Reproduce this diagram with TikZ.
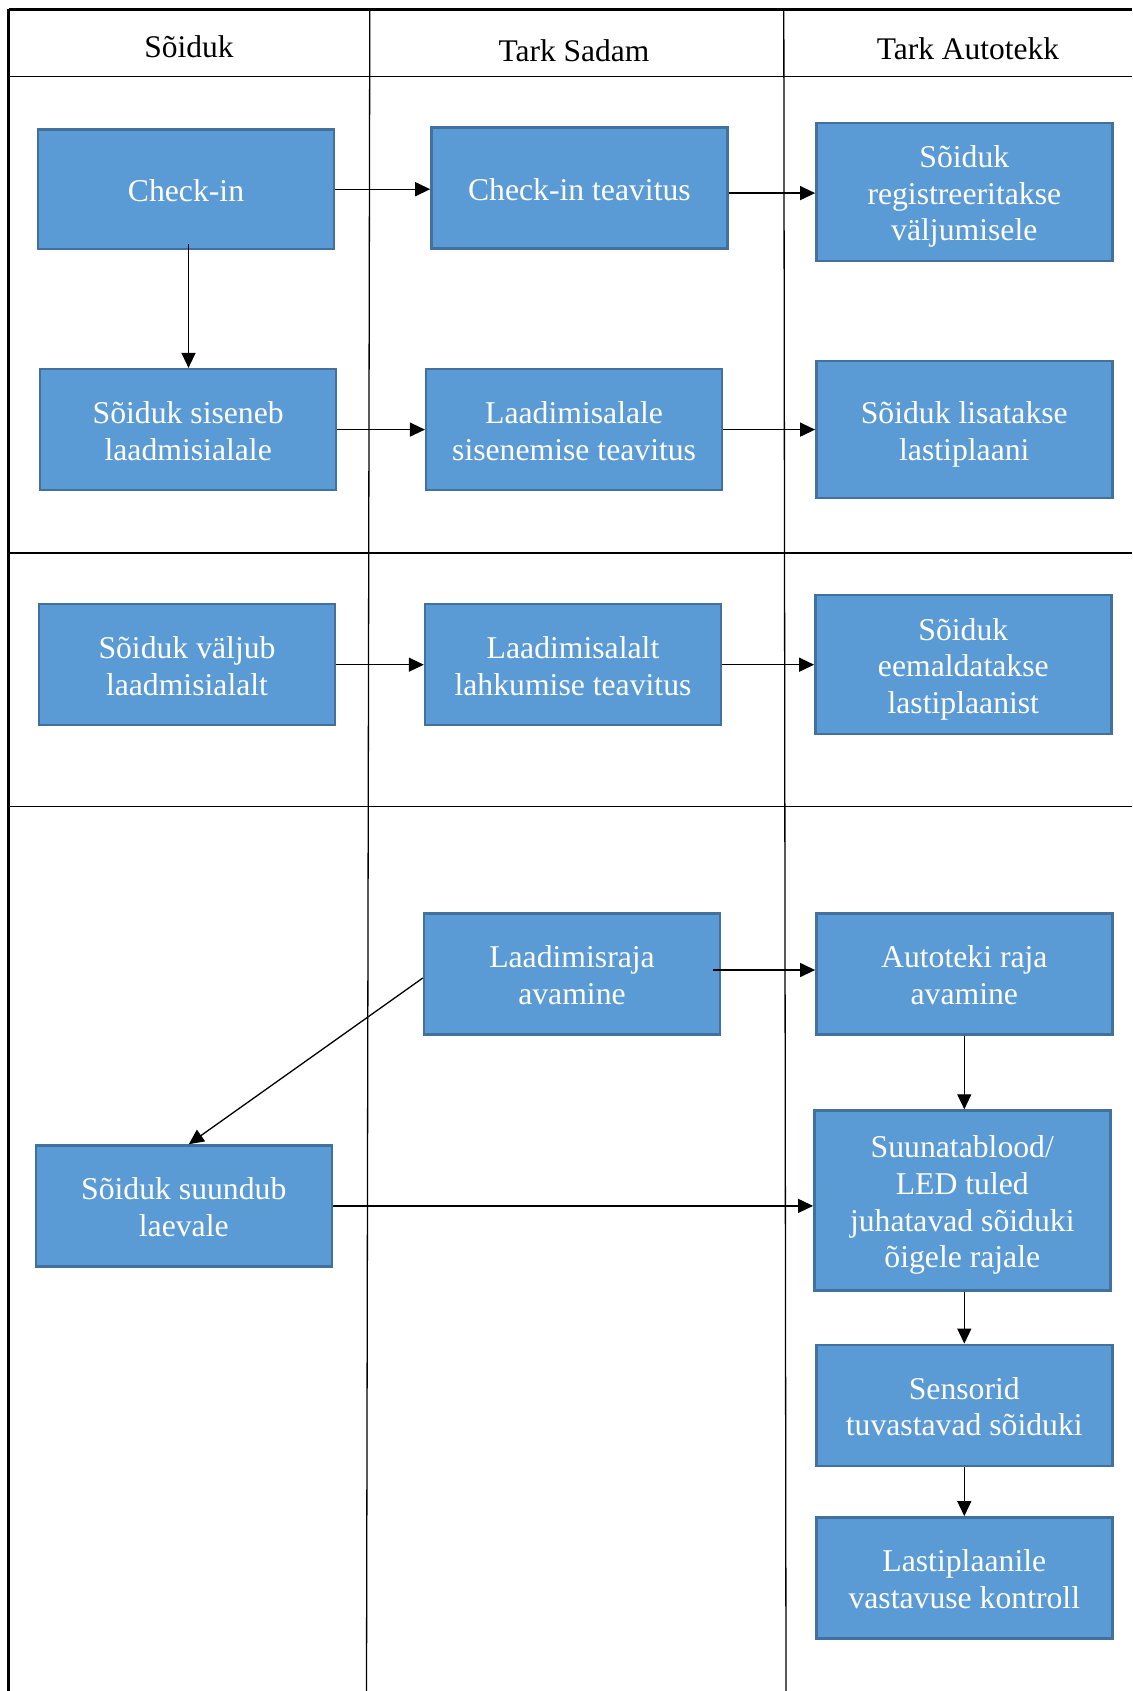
\documentclass[tikz,border=0pt]{standalone}
\usepackage{fontspec}
\setmainfont{Liberation Serif}
\usetikzlibrary{arrows.meta}
\definecolor{boxfill}{HTML}{5B9BD5}
\definecolor{boxline}{HTML}{41719C}
\newcommand\boxtext[1]{\raisebox{-4.8pt}[\height][\depth]{\begin{tabular}{@{}c@{}}#1\end{tabular}}}
\begin{document}
\begin{tikzpicture}[x=1pt,y=-1pt,
  proc/.style={draw=boxline,line width=2.4pt,fill=boxfill,text=white,
    minimum width=296pt,minimum height=121pt,inner sep=0pt,
    font=\fontsize{31.7}{36.7}\selectfont},
  hdr/.style={font=\fontsize{31.5}{36}\selectfont,inner sep=0pt},
  flow/.style={line width=1.3pt,-{Triangle[length=15pt,width=14pt]}},
  grid/.style={line width=1.3pt,black}]
\useasboundingbox (0,0) rectangle (1132,1691);
\fill[white] (0,0) rectangle (1132,1691);
% frame
\draw[line width=3pt] (8.6,10) -- (1132,10);
\draw[line width=2.4pt] (8.6,8.6) -- (8.6,1691);
\draw[grid] (8.6,76.5) -- (1132,76.5);
\draw[grid] (8.6,553) -- (1132,553);
\draw[grid] (8.6,806.4) -- (1132,806.4);
\draw[grid] (369.8,10) -- (366.5,1691);
\draw[grid] (783.8,10) -- (786,1691);
% headers
\node[hdr] (h1) at (189,47) {Sõiduk};
\node[hdr] (h2) at (574,51) {Tark Sadam};
\node[hdr] (h3) at (968,49) {Tark Autotekk};
% boxes
\node[proc,minimum height=119.6pt] (chk) at (186,189.2) {\boxtext{Check-in}};
\node[proc] (chkt) at (579.4,188.1) {\boxtext{Check-in teavitus}};
\node[proc,minimum height=138pt] (reg) at (964.3,191.9) {\boxtext{Sõiduk\\registreeritakse\\väljumisele}};
\node[proc] (sis) at (188.2,429.6) {\boxtext{Sõiduk siseneb\\laadmisialale}};
\node[proc] (sist) at (574.1,429.6) {\boxtext{Laadimisalale\\sisenemise teavitus}};
\node[proc,minimum height=137pt] (lis) at (964.3,429.7) {\boxtext{Sõiduk lisatakse\\lastiplaani}};
\node[proc] (valj) at (187,664.7) {\boxtext{Sõiduk väljub\\laadmisialalt}};
\node[proc] (lahk) at (573,664.7) {\boxtext{Laadimisalalt\\lahkumise teavitus}};
\node[proc,minimum height=139pt] (eem) at (963.3,664.6) {\boxtext{Sõiduk\\eemaldatakse\\lastiplaanist}};
\node[proc] (rajaS) at (572,974) {\boxtext{Laadimisraja\\avamine}};
\node[proc] (rajaA) at (964.3,974) {\boxtext{Autoteki raja\\avamine}};
\node[proc,minimum height=180pt] (suun) at (962.3,1200.5) {\boxtext{Suunatablood/\\LED tuled\\juhatavad sõiduki\\õigele rajale}};
\node[proc] (suund) at (183.8,1205.9) {\boxtext{Sõiduk suundub\\laevale}};
\node[proc] (sens) at (964.3,1405.3) {\boxtext{Sensorid\\tuvastavad sõiduki}};
\node[proc] (last) at (964.3,1577.8) {\boxtext{Lastiplaanile\\vastavuse kontroll}};
% connectors
\draw[flow] (chk.east) -- (chk.east -| chkt.west);
\draw[flow] ([yshift=-5pt]chkt.east) -- ([yshift=-5pt]chkt.east -| reg.west);
\draw[flow] ([xshift=2.5pt,yshift=6pt]chk.south) -- ([xshift=2.5pt]chk.south |- sis.north);
\draw[flow] (sis.east) -- (sis.east -| sist.west);
\draw[flow] (sist.east) -- (sist.east -| lis.west);
\draw[flow] (valj.east) -- (valj.east -| lahk.west);
\draw[flow] (lahk.east) -- (lahk.east -| eem.west);
\draw[flow] ([xshift=-8pt,yshift=4pt]rajaS.east) -- ([yshift=4pt]rajaS.east -| rajaA.west);
\draw[flow] ([yshift=-4pt]rajaS.west) -- ([xshift=5pt]suund.north);
\draw[flow] (suund.east) -- (suund.east -| suun.west);
\draw[flow] (rajaA.south) -- (rajaA.south |- suun.north);
\draw[flow] ([xshift=2pt]suun.south) -- ([xshift=2pt]suun.south |- sens.north);
\draw[flow] (sens.south) -- (last.north);
\end{tikzpicture}
\end{document}
